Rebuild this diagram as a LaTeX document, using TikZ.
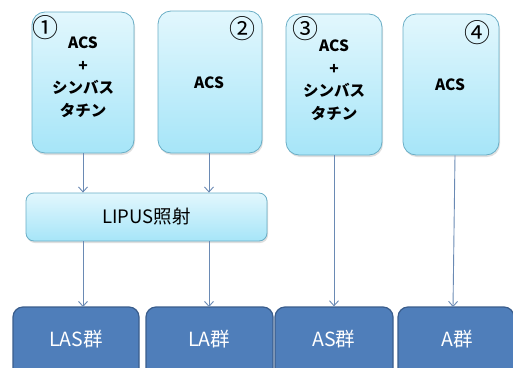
\documentclass[tikz,border=0pt]{standalone}
\usepackage{fontspec}
\setmainfont{Noto Sans CJK JP}
\usetikzlibrary{arrows.meta,shadows}
\definecolor{boxtop}{HTML}{E2F7FD}
\definecolor{boxbot}{HTML}{A6E5F8}
\definecolor{boxedge}{HTML}{6AAEC6}
\definecolor{grpfill}{HTML}{4F7EBA}
\definecolor{grpedge}{HTML}{3A5D8C}
\definecolor{arr}{HTML}{6A8AB4}
\tikzset{
  lightbox/.style={draw=boxedge, line width=0.8pt, top color=boxtop, bottom color=boxbot,
    rounded corners=13pt, inner sep=0pt,
    drop shadow={shadow xshift=1pt, shadow yshift=-2pt, opacity=0.25}},
  grpbox/.style={draw=grpedge, line width=1.2pt, fill=grpfill, rounded corners=10pt, inner sep=0pt},
  boxtxt/.style={font=\bfseries\fontsize{15.5}{22.5}\selectfont, align=center, inner sep=0pt},
  numtxt/.style={font=\fontsize{26}{26}\selectfont, inner sep=0pt},
  grptxt/.style={font=\fontsize{19.5}{19.5}\selectfont, text=white, inner sep=0pt},
  conn/.style={draw=arr, line width=0.9pt, -{Straight Barb[length=5pt,width=9pt]}}
}
\begin{document}
\begin{tikzpicture}[x=1pt,y=-1pt]
\useasboundingbox (0,0) rectangle (513,367);
\clip (0,0) rectangle (513,367);
% top boxes
\node[lightbox, minimum width=102pt, minimum height=141pt] (b1) at (83,82.5) {};
\node[lightbox, minimum width=104pt, minimum height=142pt] (b2) at (210,82) {};
\node[lightbox, minimum width=96pt, minimum height=141pt] (b3) at (334,84.5) {};
\node[lightbox, minimum width=96pt, minimum height=141pt] (b4) at (451,84.5) {};
% numbers
\node[numtxt] (n1) at (45,28) {①};
\node[numtxt] (n2) at (242,29) {②};
\node[numtxt] (n3) at (305,29) {③};
\node[numtxt] (n4) at (477,33) {④};
% texts
\node[boxtxt, anchor=north] (t1) at (83,37) {ACS\\+\\シンバス\\タチン};
\node[boxtxt] (t2) at (209,83) {ACS};
\node[boxtxt, anchor=north] (t3) at (334,40) {ACS\\+\\シンバス\\タチン};
\node[boxtxt] (t4) at (450,85) {ACS};
% LIPUS
\node[lightbox, rounded corners=8pt, minimum width=241pt, minimum height=48pt] (lp) at (146.5,217) {};
\node[font=\fontsize{18.5}{18.5}\selectfont, inner sep=0pt] (lpt) at (146.5,217) {LIPUS照射};
% groups
\node[grpbox, minimum width=126pt, minimum height=80pt] (g1) at (76,347) {};
\node[grpbox, minimum width=127pt, minimum height=80pt] (g2) at (209.5,347) {};
\node[grpbox, minimum width=118pt, minimum height=80pt] (g3) at (334,347) {};
\node[grpbox, minimum width=116pt, minimum height=80pt] (g4) at (456,347) {};
\node[grptxt] (gt1) at (76,339) {LAS群};
\node[grptxt] (gt2) at (209,339) {LA群};
\node[grptxt] (gt3) at (334,339) {AS群};
\node[grptxt] (gt4) at (457,339) {A群};
% connectors
\draw[conn] (b1.south) -- (b1.south |- lp.north);
\draw[conn] ([xshift=-1pt]b2.south) -- ([xshift=-1pt]b2.south |- lp.north);
\draw[conn] (83,241) -- (83,307);
\draw[conn] (209,241) -- (209,307);
\draw[conn] (b3.south) -- (b3.south |- g3.north);
\coordinate (a4) at (453,307);
\draw[conn] ([xshift=4pt]b4.south) -- (a4);
\end{tikzpicture}
\end{document}
